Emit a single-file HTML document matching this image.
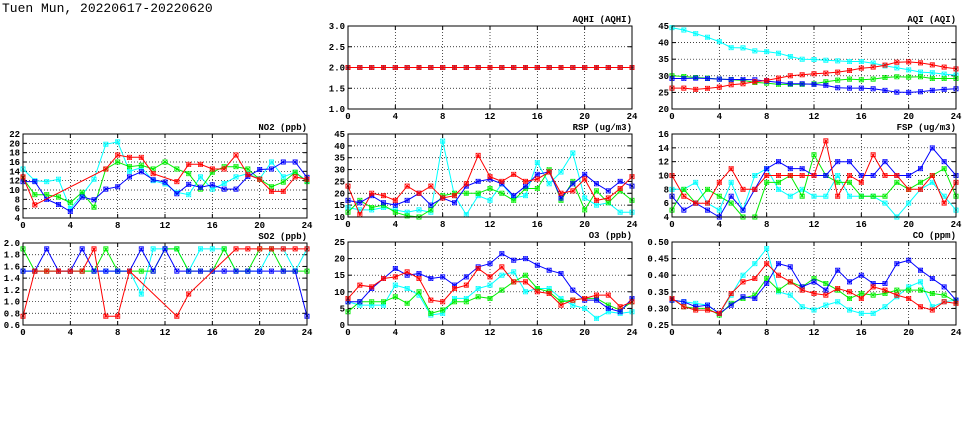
<!DOCTYPE html>
<html><head><meta charset="utf-8"><style>
html,body{margin:0;padding:0;background:#fff;width:975px;height:447px;overflow:hidden}
svg text{font-family:"Liberation Mono",monospace;font-weight:bold;font-size:9px;fill:#000}
</style></head><body>
<svg id="s" width="975" height="447" xmlns="http://www.w3.org/2000/svg">
<text x="2" y="12" style="font-size:13px;font-weight:normal">Tuen Mun, 20220617-20220620</text>
</svg>
<script>
var S=document.getElementById('s'),NS='http://www.w3.org/2000/svg';
function el(t,a,txt){var e=document.createElementNS(NS,t);for(var k in a)e.setAttribute(k,a[k]);if(txt!==undefined)e.textContent=txt;S.appendChild(e);return e;}
var C=['#00ffff','#00ee00','#0000ff','#ff0000'];
function panel(x0,x1,y0,y1,ymin,ymax,step,dec,title,data){
  var W=x1-x0,H=y1-y0;
  function X(v){return x0+v/24*W}
  function Y(v){return y1-(v-ymin)/(ymax-ymin)*H}
  for(var h=4;h<24;h+=4)el('line',{x1:X(h),x2:X(h),y1:y0,y2:y1,stroke:'#000','stroke-width':0.7,'stroke-dasharray':'1,2'});
  var n=Math.round((ymax-ymin)/step);
  for(var i=0;i<=n;i++){var v=ymin+i*step,y=Y(v);
    if(i>0&&i<n)el('line',{x1:x0,x2:x1,y1:y,y2:y,stroke:'#000','stroke-width':0.7,'stroke-dasharray':'1,2'});
    el('line',{x1:x0,x2:x0+4,y1:y,y2:y,stroke:'#000'});el('line',{x1:x1-4,x2:x1,y1:y,y2:y,stroke:'#000'});
    el('text',{x:x0-3,y:y+3,'text-anchor':'end'},v.toFixed(dec));}
  for(var h=0;h<=24;h+=4){el('text',{x:X(h),y:y1+10,'text-anchor':'middle'},String(h));
    el('line',{x1:X(h),x2:X(h),y1:y1,y2:y1-4,stroke:'#000'});el('line',{x1:X(h),x2:X(h),y1:y0,y2:y0+4,stroke:'#000'});}
  el('text',{x:x1,y:y0-4,'text-anchor':'end'},title);
  data.forEach(function(d,si){var pts=[];d.forEach(function(v,h){if(v!==null)pts.push([X(h),Y(v)])});
    el('polyline',{points:pts.map(function(p){return p[0].toFixed(1)+','+p[1].toFixed(1)}).join(' '),fill:'none',stroke:C[si],'stroke-width':1});
    pts.forEach(function(p){var a=p[0],b=p[1],r=2.2;
      el('path',{d:'M'+(a-r)+' '+(b-r)+'h'+2*r+'v'+2*r+'h'+(-2*r)+'z M'+(a-r)+' '+(b-r)+'l'+2*r+' '+2*r+'M'+(a+r)+' '+(b-r)+'l'+(-2*r)+' '+2*r+'M'+a+' '+(b-r)+'v'+2*r+'M'+(a-r)+' '+b+'h'+2*r,fill:'none',stroke:C[si],'stroke-width':0.6});});
  });
  el('rect',{x:x0,y:y0,width:W,height:H,fill:'none',stroke:'#000','stroke-width':1});
}
var N=null;
panel(23,307,134,218,4,22,2,0,'NO2 (ppb)',[
[14.5,12,11.8,12.3,6,9,12.3,19.8,20.3,14,14.8,12,11.3,9.5,9,12.8,10.2,11.4,12.8,13.5,12.4,16,12.8,13.8,12],
[12.5,9,9,8.5,7.3,9.5,6.3,14.5,16,15,15.3,14.5,16,14.5,13.5,10.2,13.8,15,15,14.5,12.3,10.7,11.7,13.8,11.8],
[11.8,11.8,8,6.9,5.4,8.5,7.9,10.2,10.7,12.8,13.9,12.2,11.7,9.2,11.2,10.6,11.1,10.2,10.2,12.9,14.4,14.5,16,16,12.7],
[12.8,6.8,N,N,N,N,N,14.5,17.5,17,17,13.5,N,11.8,15.5,15.5,14.5,14.5,17.5,13.3,12.3,9.7,9.7,12.8,12.3]]);
panel(23,307,243,325,0.6,2.0,0.2,1,'SO2 (ppb)',[
[1.52,1.52,1.52,1.52,1.52,1.52,1.52,1.52,1.52,1.52,1.13,1.9,1.9,1.9,1.52,1.9,1.9,1.9,1.52,1.52,1.52,1.9,1.9,1.52,1.9],
[1.9,1.52,1.52,1.52,1.52,1.52,1.52,1.9,1.52,1.52,1.52,1.52,1.9,1.9,1.52,1.52,1.52,1.9,1.52,1.52,1.9,1.9,1.52,1.52,1.52],
[1.52,1.52,1.9,1.52,1.52,1.9,1.52,1.52,1.52,1.52,1.9,1.52,1.9,1.52,1.52,1.52,1.52,1.52,1.52,1.52,1.52,1.52,1.52,1.52,0.75],
[0.75,1.52,1.52,1.52,1.52,1.52,1.9,0.75,0.75,1.52,N,N,N,0.75,1.13,N,N,N,1.9,1.9,1.9,1.9,1.9,1.9,1.9]]);
var two=[];for(var i=0;i<25;i++)two.push(2);
panel(348,632,26,109,1.0,3.0,0.5,1,'AQHI (AQHI)',[two,two,two,two]);
panel(348,632,134,217,10,45,5,0,'RSP (ug/m3)',[
[14,13,13,14,13,12,13,12,42,19,11,19,17,24,18,19,33,24,29,37,18,15,16,12,12],
[12,17,14,15,12,10.5,10,13,19,20,20,20,22,20,17,22,22,30,17,25,13,21,16,21,17],
[17,16,19,16,15,17,20,15,18,16,23,25,26,24,19,23,28,29,18,24,28,24,21,25,23],
[23,11,20,19,17,23,20,23,18,19,24,36,27,25,28,25,26,29,20,21,26,17,18,22,27]]);
panel(348,632,242,325,0,25,5,0,'O3 (ppb)',[
[7,6,6,6,12,11,9,3,3.5,8,8,11,12,15,16,10,11,11,8,6,5,2,4,3.5,4],
[4,7,7,7,8.5,6.5,10,3.5,4.5,7,7,8.5,8,10.5,13,15,11,10,7,7.5,8,8,6,4.5,7],
[7,7,11,14,17,15,15.5,14,14.5,12,14.5,17.5,18.5,21.5,19.5,20,18,16.5,15.5,10.5,7.5,7.5,5,4,8],
[8,12,11.5,14,14.5,16,14,7.5,7,11,12,17,14.5,17.5,13,13,10,9.5,6,7.5,8,9,9,5.5,7]]);
panel(672,956,26,109,20,45,5,0,'AQI (AQI)',[
[44.5,43.8,42.7,41.6,40.3,38.5,38.4,37.5,37.3,36.8,35.8,35,34.9,34.7,34.5,34.3,34.3,33.8,33,32.4,31.8,31.1,30.9,30.5,30.2],
[30,29.8,29.5,29.3,29,28.8,28.6,28,27.8,27.4,27.4,27.4,27.6,28.2,28.7,29,28.8,29,29.5,29.7,29.6,29.7,29.2,29.2,29.2],
[29.2,29.2,29.3,29.2,29,28.9,28.9,28.8,28.4,28,27.6,27.6,27.4,27.1,26.4,26.3,26.3,26.1,25.6,25.1,25,25.2,25.6,25.9,26.1],
[26.3,26.3,25.9,26.2,26.6,27.3,27.6,28.2,28.6,29.3,30,30.3,30.6,30.8,31.1,31.6,32.3,32.6,33.2,34.1,34.2,33.9,33.3,32.6,32.1]]);
panel(672,956,134,217,4,16,2,0,'FSP (ug/m3)',[
[8,8,9,6,5,9,5,10,11,8,7,8,7,7,10,7,7,7,6,4,6,8,9,7,5],
[5,8,6,8,7,6,4,4,9,9,10,7,13,10,9,9,7,7,7,9,8,9,10,11,7],
[7,5,6,5,4,7,5,8,11,12,11,11,10,10,12,12,10,10,12,10,10,11,14,12,10],
[10,7,6,6,9,11,8,8,10,10,10,10,10,15,7,10,9,13,10,10,8,8,10,6,9]]);
panel(672,956,242,325,0.25,0.50,0.05,2,'CO (ppm)',[
[.325,.32,.315,.31,.285,.34,.40,.435,.48,.35,.34,.305,.295,.31,.32,.295,.285,.285,.305,.335,.365,.38,.305,.32,.325],
[.33,.305,.30,.30,.28,.315,.33,.34,.39,.355,.38,.365,.39,.375,.355,.33,.345,.34,.345,.355,.355,.355,.345,.34,.32],
[.325,.32,.305,.31,.285,.31,.335,.33,.375,.435,.425,.365,.38,.355,.415,.38,.40,.375,.375,.435,.445,.415,.39,.365,.325],
[.33,.305,.295,.295,.285,.345,.38,.39,.435,.40,.38,.355,.345,.34,.36,.35,.33,.365,.355,.34,.33,.305,.295,.32,.315]]);
</script>
</body></html>
